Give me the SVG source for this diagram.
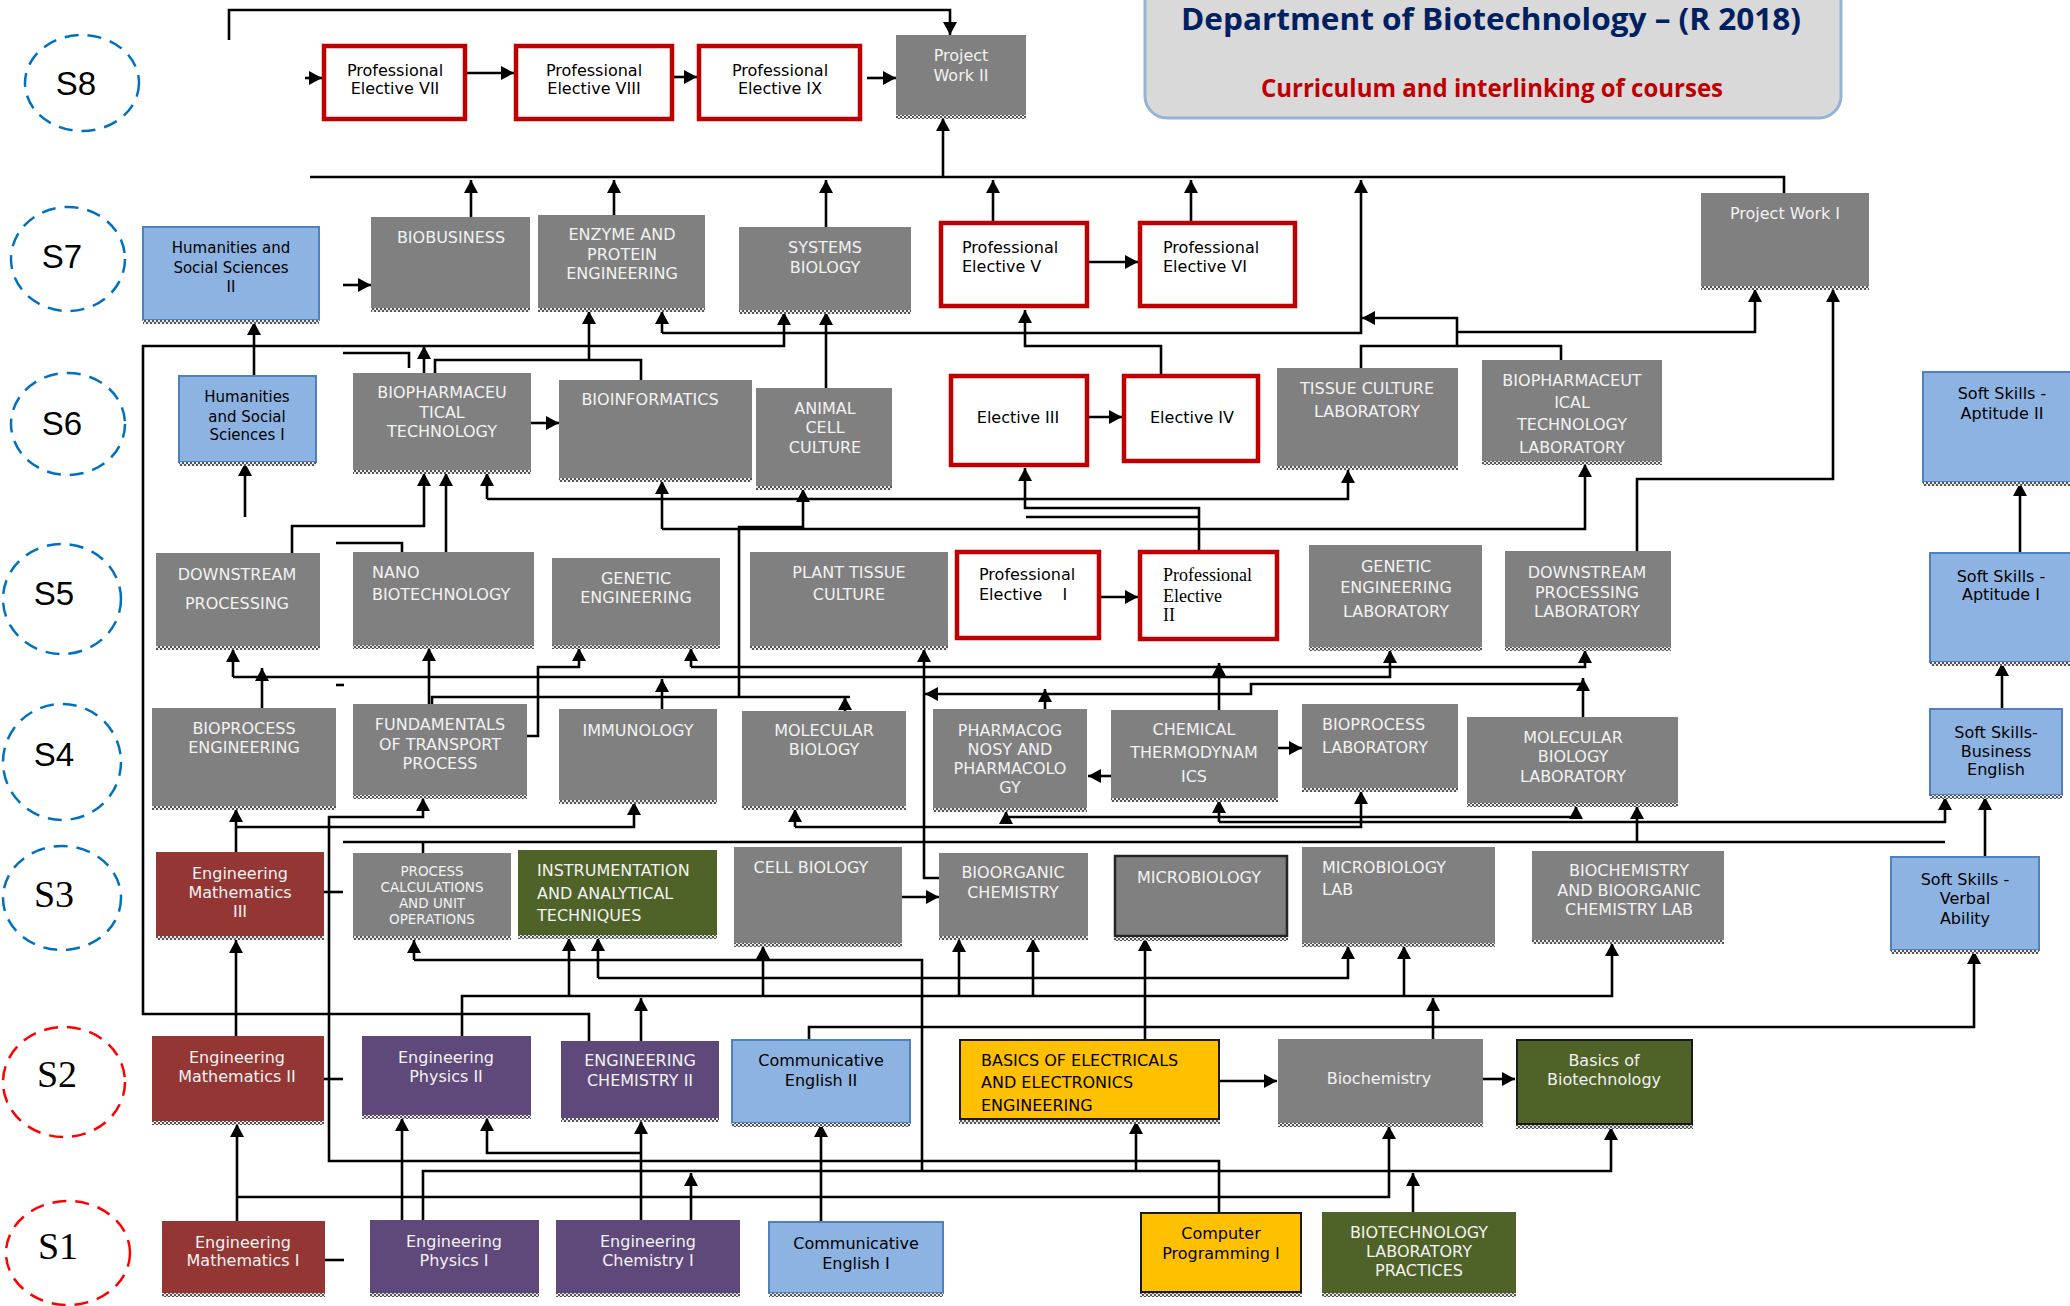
<svg xmlns="http://www.w3.org/2000/svg" width="2070" height="1306" viewBox="0 0 2070 1306">
<defs>
<style>
.g{fill:#808080}
.rd{fill:#fff;stroke:#C00000;stroke-width:4.5}
.bl{fill:#8DB3E2;stroke:#4F81BD;stroke-width:2}
.mr{fill:#943634}
.pu{fill:#5F497A}
.ol{fill:#4F6228}
.ye{fill:#FFC000;stroke:#1a1a1a;stroke-width:2}
.olb{fill:#4F6228;stroke:#1a1a1a;stroke-width:2}
.gb{fill:#808080;stroke:#262626;stroke-width:2.5}
.sh{fill:url(#chk)}
text{font-family:"DejaVu Sans",Verdana,sans-serif;font-size:16px;dominant-baseline:central}
.w{fill:#F2F2F2;text-anchor:middle}
.wl{fill:#F2F2F2}
.k{fill:#000;text-anchor:middle}
.kl{fill:#000}
.sm{font-size:13.5px}
.ser{font-family:"Liberation Serif","Times New Roman",serif;font-size:18px;fill:#000}
.cb{fill:none;stroke:#0070C0;stroke-width:2.5;stroke-dasharray:14 9}
.cr{fill:none;stroke:#FF0000;stroke-width:2.5;stroke-dasharray:14 9}
.sl{font-family:"Liberation Sans",Arial,sans-serif;font-size:33px;fill:#000;text-anchor:middle;dominant-baseline:auto}
.ss{font-family:"Liberation Serif","Times New Roman",serif;font-size:38px;fill:#000;text-anchor:middle;dominant-baseline:auto}
#conn path{fill:none;stroke:#000;stroke-width:2.6}
#conn .a{marker-end:url(#ah)}
</style>
<pattern id="chk" width="4" height="4" patternUnits="userSpaceOnUse">
<rect width="4" height="4" fill="#e8e8e8"/><rect width="2" height="2" fill="#555"/><rect x="2" y="2" width="2" height="2" fill="#555"/>
</pattern>
<marker id="ah" viewBox="0 0 13 14" refX="13" refY="7" markerWidth="13" markerHeight="14" markerUnits="userSpaceOnUse" orient="auto">
<path d="M0,0 L13,7 L0,14 z" fill="#000"/>
</marker>
</defs>
<rect width="2070" height="1306" fill="#fff"/>

<g id="title">
<rect x="1145" y="-30" width="696" height="148" rx="22" fill="#D9D9D9" stroke="#95B3D7" stroke-width="3"/>
<text x="1491" y="30" style="font-family:'Open Sans',sans-serif;font-weight:700;font-size:31px;fill:#002060;text-anchor:middle;dominant-baseline:auto" textLength="620" lengthAdjust="spacingAndGlyphs">Department of Biotechnology – (R 2018)</text>
<text x="1492" y="97" style="font-family:'Open Sans',sans-serif;font-weight:700;font-size:25px;fill:#C00000;text-anchor:middle;dominant-baseline:auto" textLength="462" lengthAdjust="spacingAndGlyphs">Curriculum and interlinking of courses</text>
</g>

<g id="semesters">
<g id="s8"><ellipse class="cb" cx="82" cy="83" rx="57" ry="48"/><text class="sl" x="76" y="95">S8</text></g>
<g id="s7"><ellipse class="cb" cx="68" cy="259" rx="57" ry="52"/><text class="sl" x="62" y="268">S7</text></g>
<g id="s6"><ellipse class="cb" cx="68" cy="424" rx="57" ry="51"/><text class="sl" x="62" y="435">S6</text></g>
<g id="s5"><ellipse class="cb" cx="62" cy="599" rx="59" ry="55"/><text class="sl" x="54" y="605">S5</text></g>
<g id="s4"><ellipse class="cb" cx="62" cy="762" rx="59" ry="58"/><text class="sl" x="54" y="766">S4</text></g>
<g id="s3"><ellipse class="cb" cx="62" cy="898" rx="59" ry="52"/><text class="ss" x="54" y="907">S3</text></g>
<g id="s2"><ellipse class="cr" cx="64" cy="1082" rx="61" ry="55"/><text class="ss" x="57" y="1087">S2</text></g>
<g id="s1"><ellipse class="cr" cx="68" cy="1253" rx="62" ry="52"/><text class="ss" x="58" y="1259">S1</text></g>
</g>

<g id="conn">
<path d="M229,40 V10 H950 V35" class="a"/>
<path d="M305,78 H322" class="a"/>
<path d="M467,73 H514" class="a"/>
<path d="M674,77 H697" class="a"/>
<path d="M867,78 H896" class="a"/>
<path d="M310,177 H1784 V193"/>
<path d="M943,177 V118" class="a"/>
<path d="M471,217 V180" class="a"/>
<path d="M614,215 V180" class="a"/>
<path d="M826,227 V180" class="a"/>
<path d="M993,221 V180" class="a"/>
<path d="M1191,221 V180" class="a"/>
<path d="M662,333 H1361 V180" class="a"/>
<path d="M662,333 V311" class="a"/>
<path d="M343,285 H371" class="a"/>
<path d="M254,376 V322" class="a"/>
<path d="M589,1041 V1014 H143 V346 H784 V312" class="a"/>
<path d="M343,353 H409 V368"/>
<path d="M424,373 V346" class="a"/>
<path d="M435,373 V360 H641 V380"/>
<path d="M589,360 V311" class="a"/>
<path d="M826,388 V312" class="a"/>
<path d="M1161,374 V346 H1025 V310" class="a"/>
<path d="M1361,368 V346 H1561 V360"/>
<path d="M1457,346 V318 H1362" class="a"/>
<path d="M1457,332 H1755 V289" class="a"/>
<path d="M1637,551 V479 H1833 V289" class="a"/>
<path d="M1089,417 H1122" class="a"/>
<path d="M1089,262 H1138" class="a"/>
<path d="M531,423 H559" class="a"/>
<path d="M245,517 V463" class="a"/>
<path d="M292,553 V526 H424 V473" class="a"/>
<path d="M336,543 H402 V552"/>
<path d="M446,552 V473" class="a"/>
<path d="M487,499 V473" class="a"/>
<path d="M487,499 H1348 V470" class="a"/>
<path d="M662,529 V481" class="a"/>
<path d="M662,529 H1585 V464" class="a"/>
<path d="M432,704 V697 H850"/>
<path d="M845,711 V697" class="a"/>
<path d="M739,697 V527 H803 V489" class="a"/>
<path d="M1199,550 V508 H1025 V468" class="a"/>
<path d="M1199,517 H1026"/>
<path d="M1101,597 H1138" class="a"/>
<path d="M233,677 V649" class="a"/>
<path d="M233,677 H1390 V650" class="a"/>
<path d="M262,708 V668" class="a"/>
<path d="M527,736 H538 V667 H579 V648" class="a"/>
<path d="M691,667 V648" class="a"/>
<path d="M691,667 H1585 V650" class="a"/>
<path d="M1219,710 V663" class="a"/>
<path d="M429,705 V648" class="a"/>
<path d="M662,709 V679" class="a"/>
<path d="M1045,709 V689" class="a"/>
<path d="M1583,717 V678" class="a"/>
<path d="M1583,684 H1251 V694 H925" class="a"/>
<path d="M950,878 H924 V649" class="a"/>
<path d="M1111,776 H1088" class="a"/>
<path d="M1278,748 H1302" class="a"/>
<path d="M336,685 H344"/>
<path d="M236,852 V809" class="a"/>
<path d="M236,827 H634 V802" class="a"/>
<path d="M1219,1212 V1161 H329 V817 H423 V798" class="a"/>
<path d="M343,842 H1945"/>
<path d="M423,842 V853"/>
<path d="M1637,842 V806" class="a"/>
<path d="M795,827 V809" class="a"/>
<path d="M795,827 H1361 V791" class="a"/>
<path d="M1006,817 V811" class="a"/>
<path d="M1006,817 H1576 V806" class="a"/>
<path d="M1219,822 V800" class="a"/>
<path d="M1219,822 H1945 V797" class="a"/>
<path d="M236,1036 V940" class="a"/>
<path d="M414,960 V940" class="a"/>
<path d="M414,960 H922 V1171"/>
<path d="M598,978 V938" class="a"/>
<path d="M598,978 H1348 V946" class="a"/>
<path d="M462,1037 V996 H1612 V943" class="a"/>
<path d="M569,996 V938" class="a"/>
<path d="M763,996 V946" class="a"/>
<path d="M959,996 V939" class="a"/>
<path d="M1033,996 V939" class="a"/>
<path d="M1404,996 V946" class="a"/>
<path d="M641,1041 V998" class="a"/>
<path d="M1433,1039 V998" class="a"/>
<path d="M809,1040 V1027 H1974 V951" class="a"/>
<path d="M1145,1039 V938" class="a"/>
<path d="M237,1221 V1124" class="a"/>
<path d="M237,1197 H1389 V1126" class="a"/>
<path d="M402,1220 V1118" class="a"/>
<path d="M423,1220 V1171 H1611 V1127" class="a"/>
<path d="M1136,1171 V1121" class="a"/>
<path d="M641,1220 V1121" class="a"/>
<path d="M641,1153 H487 V1118" class="a"/>
<path d="M691,1220 V1173" class="a"/>
<path d="M821,1222 V1124" class="a"/>
<path d="M1413,1212 V1173" class="a"/>
<path d="M902,897 H939" class="a"/>
<path d="M1220,1081 H1277" class="a"/>
<path d="M1483,1079 H1515" class="a"/>
<path d="M324,892 H343"/>
<path d="M324,1079 H343"/>
<path d="M325,1260 H344"/>
<path d="M1985,857 V797" class="a"/>
<path d="M2002,709 V663" class="a"/>
<path d="M2020,553 V483" class="a"/>
</g>

<g id="nodes">
<g id="pe7"><rect class="rd" x="324" y="46" width="141" height="73"/><text class="k"><tspan x="395" y="70">Professional</tspan><tspan x="395" y="88">Elective VII</tspan></text></g>
<g id="pe8"><rect class="rd" x="516" y="46" width="156" height="73"/><text class="k"><tspan x="594" y="70">Professional</tspan><tspan x="594" y="88">Elective VIII</tspan></text></g>
<g id="pe9"><rect class="rd" x="699" y="46" width="161" height="73"/><text class="k"><tspan x="780" y="70">Professional</tspan><tspan x="780" y="88">Elective IX</tspan></text></g>
<g id="pw2"><rect class="g" x="896" y="35" width="130" height="83"/><rect class="sh" x="896" y="115" width="130" height="4"/><text class="w"><tspan x="961" y="55">Project</tspan><tspan x="961" y="75">Work II</tspan></text></g>

<g id="hss2"><rect class="bl" x="143" y="227" width="176" height="93"/><rect class="sh" x="143" y="320" width="176" height="4"/><text class="k" style="font-size:15px"><tspan x="231" y="248">Humanities and</tspan><tspan x="231" y="268">Social Sciences</tspan><tspan x="231" y="287">II</tspan></text></g>
<g id="biobusiness"><rect class="g" x="371" y="217" width="159" height="93"/><rect class="sh" x="371" y="308" width="159" height="4"/><text class="w" x="451" y="237">BIOBUSINESS</text></g>
<g id="enzyme"><rect class="g" x="538" y="215" width="167" height="95"/><rect class="sh" x="538" y="308" width="167" height="4"/><text class="w"><tspan x="622" y="234">ENZYME AND</tspan><tspan x="622" y="254">PROTEIN</tspan><tspan x="622" y="273">ENGINEERING</tspan></text></g>
<g id="sysbio"><rect class="g" x="739" y="227" width="172" height="85"/><rect class="sh" x="739" y="310" width="172" height="4"/><text class="w"><tspan x="825" y="247">SYSTEMS</tspan><tspan x="825" y="267">BIOLOGY</tspan></text></g>
<g id="pe5"><rect class="rd" x="941" y="223" width="146" height="83"/><text class="kl"><tspan x="962" y="247">Professional</tspan><tspan x="962" y="266">Elective V</tspan></text></g>
<g id="pe6"><rect class="rd" x="1140" y="223" width="155" height="83"/><text class="kl"><tspan x="1163" y="247">Professional</tspan><tspan x="1163" y="266">Elective VI</tspan></text></g>
<g id="pw1"><rect class="g" x="1701" y="193" width="168" height="95"/><rect class="sh" x="1701" y="286" width="168" height="4"/><text class="w" x="1785" y="213">Project Work I</text></g>

<g id="hss1"><rect class="bl" x="179" y="376" width="137" height="86"/><rect class="sh" x="179" y="462" width="137" height="4"/><text class="k" style="font-size:15px"><tspan x="247" y="397">Humanities</tspan><tspan x="247" y="417">and  Social</tspan><tspan x="247" y="435">Sciences I</tspan></text></g>
<g id="biopharm"><rect class="g" x="353" y="373" width="178" height="99"/><rect class="sh" x="353" y="470" width="178" height="4"/><text class="w"><tspan x="442" y="392">BIOPHARMACEU</tspan><tspan x="442" y="412">TICAL</tspan><tspan x="442" y="431">TECHNOLOGY</tspan></text></g>
<g id="bioinfo"><rect class="g" x="559" y="380" width="193" height="100"/><rect class="sh" x="559" y="478" width="193" height="4"/><text class="w" x="650" y="399">BIOINFORMATICS</text></g>
<g id="animal"><rect class="g" x="756" y="388" width="136" height="100"/><rect class="sh" x="756" y="486" width="136" height="4"/><text class="w"><tspan x="825" y="408">ANIMAL</tspan><tspan x="825" y="427">CELL</tspan><tspan x="825" y="447">CULTURE</tspan></text></g>
<g id="e3"><rect class="rd" x="951" y="376" width="136" height="89"/><text class="k" x="1018" y="417">Elective III</text></g>
<g id="e4"><rect class="rd" x="1124" y="376" width="134" height="85"/><text class="k" x="1192" y="417">Elective IV</text></g>
<g id="tcl"><rect class="g" x="1277" y="368" width="181" height="100"/><rect class="sh" x="1277" y="466" width="181" height="4"/><text class="w"><tspan x="1367" y="388">TISSUE CULTURE</tspan><tspan x="1367" y="411">LABORATORY</tspan></text></g>
<g id="bptl"><rect class="g" x="1482" y="360" width="180" height="103"/><rect class="sh" x="1482" y="461" width="180" height="4"/><text class="w"><tspan x="1572" y="380">BIOPHARMACEUT</tspan><tspan x="1572" y="402">ICAL</tspan><tspan x="1572" y="424">TECHNOLOGY</tspan><tspan x="1572" y="447">LABORATORY</tspan></text></g>
<g id="ssa2"><rect class="bl" x="1923" y="372" width="152" height="110"/><rect class="sh" x="1923" y="482" width="150" height="4"/><text class="k"><tspan x="2002" y="393">Soft Skills -</tspan><tspan x="2002" y="413">Aptitude II</tspan></text></g>

<g id="dsp"><rect class="g" x="156" y="553" width="164" height="95"/><rect class="sh" x="156" y="646" width="164" height="4"/><text class="w"><tspan x="237" y="574">DOWNSTREAM</tspan><tspan x="237" y="603">PROCESSING</tspan></text></g>
<g id="nano"><rect class="g" x="353" y="552" width="181" height="95"/><rect class="sh" x="353" y="645" width="181" height="4"/><text class="wl"><tspan x="372" y="572">NANO</tspan><tspan x="372" y="594">BIOTECHNOLOGY</tspan></text></g>
<g id="ge"><rect class="g" x="552" y="558" width="168" height="89"/><rect class="sh" x="552" y="645" width="168" height="4"/><text class="w"><tspan x="636" y="578">GENETIC</tspan><tspan x="636" y="597">ENGINEERING</tspan></text></g>
<g id="ptc"><rect class="g" x="750" y="552" width="198" height="96"/><rect class="sh" x="750" y="646" width="198" height="4"/><text class="w"><tspan x="849" y="572">PLANT TISSUE</tspan><tspan x="849" y="594">CULTURE</tspan></text></g>
<g id="pe1"><rect class="rd" x="957" y="552" width="142" height="86"/><text class="kl"><tspan x="979" y="574">Professional</tspan><tspan x="979" y="594" xml:space="preserve">Elective    I</tspan></text></g>
<g id="pe2"><rect class="rd" x="1140" y="552" width="137" height="87"/><text class="ser"><tspan x="1163" y="575">Professional</tspan><tspan x="1163" y="596">Elective</tspan><tspan x="1163" y="615">II</tspan></text></g>
<g id="gel"><rect class="g" x="1309" y="545" width="173" height="104"/><rect class="sh" x="1309" y="647" width="173" height="4"/><text class="w"><tspan x="1396" y="566">GENETIC</tspan><tspan x="1396" y="587">ENGINEERING</tspan><tspan x="1396" y="611">LABORATORY</tspan></text></g>
<g id="dpl"><rect class="g" x="1505" y="551" width="166" height="98"/><rect class="sh" x="1505" y="647" width="166" height="4"/><text class="w"><tspan x="1587" y="572">DOWNSTREAM</tspan><tspan x="1587" y="592">PROCESSING</tspan><tspan x="1587" y="611">LABORATORY</tspan></text></g>
<g id="ssa1"><rect class="bl" x="1930" y="553" width="145" height="109"/><rect class="sh" x="1930" y="662" width="143" height="4"/><text class="k"><tspan x="2001" y="576">Soft Skills -</tspan><tspan x="2001" y="594">Aptitude I</tspan></text></g>

<g id="bpe"><rect class="g" x="152" y="708" width="184" height="100"/><rect class="sh" x="152" y="806" width="184" height="4"/><text class="w"><tspan x="244" y="728">BIOPROCESS</tspan><tspan x="244" y="747">ENGINEERING</tspan></text></g>
<g id="ftp"><rect class="g" x="353" y="704" width="174" height="93"/><rect class="sh" x="353" y="795" width="174" height="4"/><text class="w"><tspan x="440" y="724">FUNDAMENTALS</tspan><tspan x="440" y="744">OF TRANSPORT</tspan><tspan x="440" y="763">PROCESS</tspan></text></g>
<g id="immuno"><rect class="g" x="559" y="709" width="158" height="93"/><rect class="sh" x="559" y="800" width="158" height="4"/><text class="w" x="638" y="730">IMMUNOLOGY</text></g>
<g id="mb"><rect class="g" x="742" y="711" width="164" height="97"/><rect class="sh" x="742" y="806" width="164" height="4"/><text class="w"><tspan x="824" y="730">MOLECULAR</tspan><tspan x="824" y="749">BIOLOGY</tspan></text></g>
<g id="pharm"><rect class="g" x="933" y="709" width="154" height="101"/><rect class="sh" x="933" y="808" width="154" height="4"/><text class="w"><tspan x="1010" y="730">PHARMACOG</tspan><tspan x="1010" y="749">NOSY AND</tspan><tspan x="1010" y="768">PHARMACOLO</tspan><tspan x="1010" y="787">GY</tspan></text></g>
<g id="chem"><rect class="g" x="1111" y="710" width="167" height="90"/><rect class="sh" x="1111" y="798" width="167" height="4"/><text class="w"><tspan x="1194" y="729">CHEMICAL</tspan><tspan x="1194" y="752">THERMODYNAM</tspan><tspan x="1194" y="776">ICS</tspan></text></g>
<g id="bpl"><rect class="g" x="1302" y="704" width="156" height="86"/><rect class="sh" x="1302" y="788" width="156" height="4"/><text class="wl"><tspan x="1322" y="724">BIOPROCESS</tspan><tspan x="1322" y="747">LABORATORY</tspan></text></g>
<g id="mbl"><rect class="g" x="1467" y="717" width="211" height="88"/><rect class="sh" x="1467" y="803" width="211" height="4"/><text class="w"><tspan x="1573" y="737">MOLECULAR</tspan><tspan x="1573" y="756">BIOLOGY</tspan><tspan x="1573" y="776">LABORATORY</tspan></text></g>
<g id="ssbe"><rect class="bl" x="1930" y="709" width="132" height="86"/><rect class="sh" x="1930" y="795" width="132" height="4"/><text class="k"><tspan x="1996" y="732">Soft Skills-</tspan><tspan x="1996" y="751">Business</tspan><tspan x="1996" y="769">English</tspan></text></g>

<g id="em3"><rect class="mr" x="156" y="852" width="168" height="86"/><rect class="sh" x="156" y="936" width="168" height="4"/><text class="w"><tspan x="240" y="873">Engineering</tspan><tspan x="240" y="892">Mathematics</tspan><tspan x="240" y="911">III</tspan></text></g>
<g id="pcuo"><rect class="g" x="353" y="853" width="158" height="85"/><rect class="sh" x="353" y="936" width="158" height="4"/><text class="w sm"><tspan x="432" y="871">PROCESS</tspan><tspan x="432" y="887">CALCULATIONS</tspan><tspan x="432" y="903">AND UNIT</tspan><tspan x="432" y="919">OPERATIONS</tspan></text></g>
<g id="instr"><rect class="ol" x="518" y="850" width="199" height="87"/><rect class="sh" x="518" y="935" width="199" height="4"/><text class="wl"><tspan x="537" y="870">INSTRUMENTATION</tspan><tspan x="537" y="893">AND ANALYTICAL</tspan><tspan x="537" y="915">TECHNIQUES</tspan></text></g>
<g id="cellbio"><rect class="g" x="734" y="847" width="168" height="98"/><rect class="sh" x="734" y="943" width="168" height="4"/><text class="w" x="811" y="867">CELL BIOLOGY</text></g>
<g id="bioorg"><rect class="g" x="939" y="853" width="149" height="85"/><rect class="sh" x="939" y="936" width="149" height="4"/><text class="w"><tspan x="1013" y="872">BIOORGANIC</tspan><tspan x="1013" y="892">CHEMISTRY</tspan></text></g>
<g id="micro"><rect class="gb" x="1115" y="856" width="172" height="80"/><rect class="sh" x="1114" y="937" width="174" height="4"/><text class="w" x="1199" y="877">MICROBIOLOGY</text></g>
<g id="microlab"><rect class="g" x="1302" y="847" width="193" height="98"/><rect class="sh" x="1302" y="943" width="193" height="4"/><text class="wl"><tspan x="1322" y="867">MICROBIOLOGY</tspan><tspan x="1322" y="889">LAB</tspan></text></g>
<g id="bbcl"><rect class="g" x="1532" y="851" width="192" height="91"/><rect class="sh" x="1532" y="940" width="192" height="4"/><text class="w"><tspan x="1629" y="870">BIOCHEMISTRY</tspan><tspan x="1629" y="890">AND BIOORGANIC</tspan><tspan x="1629" y="909">CHEMISTRY LAB</tspan></text></g>
<g id="ssva"><rect class="bl" x="1891" y="857" width="148" height="93"/><rect class="sh" x="1891" y="950" width="148" height="4"/><text class="k"><tspan x="1965" y="879">Soft Skills -</tspan><tspan x="1965" y="898">Verbal</tspan><tspan x="1965" y="918">Ability</tspan></text></g>

<g id="em2"><rect class="mr" x="152" y="1036" width="172" height="87"/><rect class="sh" x="152" y="1121" width="172" height="4"/><text class="w"><tspan x="237" y="1057">Engineering</tspan><tspan x="237" y="1076">Mathematics II</tspan></text></g>
<g id="ep2"><rect class="pu" x="362" y="1036" width="169" height="81"/><rect class="sh" x="362" y="1115" width="169" height="4"/><text class="w"><tspan x="446" y="1057">Engineering</tspan><tspan x="446" y="1076">Physics II</tspan></text></g>
<g id="ec2"><rect class="pu" x="561" y="1041" width="158" height="79"/><rect class="sh" x="561" y="1118" width="158" height="4"/><text class="w"><tspan x="640" y="1060">ENGINEERING</tspan><tspan x="640" y="1080">CHEMISTRY II</tspan></text></g>
<g id="ce2"><rect class="bl" x="732" y="1040" width="178" height="83"/><rect class="sh" x="732" y="1123" width="178" height="4"/><text class="k"><tspan x="821" y="1060">Communicative</tspan><tspan x="821" y="1080">English II</tspan></text></g>
<g id="beee"><rect class="ye" x="960" y="1040" width="259" height="79"/><rect class="sh" x="959" y="1120" width="261" height="4"/><text class="kl"><tspan x="981" y="1060">BASICS OF ELECTRICALS</tspan><tspan x="981" y="1082">AND ELECTRONICS</tspan><tspan x="981" y="1105">ENGINEERING</tspan></text></g>
<g id="biochem"><rect class="g" x="1278" y="1039" width="205" height="86"/><rect class="sh" x="1278" y="1123" width="205" height="4"/><text class="w" x="1379" y="1078">Biochemistry</text></g>
<g id="bob"><rect class="olb" x="1517" y="1040" width="175" height="84"/><rect class="sh" x="1516" y="1125" width="177" height="4"/><text class="w"><tspan x="1604" y="1060">Basics of</tspan><tspan x="1604" y="1079">Biotechnology</tspan></text></g>

<g id="em1"><rect class="mr" x="162" y="1221" width="163" height="74"/><rect class="sh" x="162" y="1293" width="163" height="4"/><text class="w"><tspan x="243" y="1242">Engineering</tspan><tspan x="243" y="1260">Mathematics I</tspan></text></g>
<g id="ep1"><rect class="pu" x="370" y="1220" width="169" height="75"/><rect class="sh" x="370" y="1293" width="169" height="4"/><text class="w"><tspan x="454" y="1241">Engineering</tspan><tspan x="454" y="1260">Physics I</tspan></text></g>
<g id="ec1"><rect class="pu" x="556" y="1220" width="184" height="75"/><rect class="sh" x="556" y="1293" width="184" height="4"/><text class="w"><tspan x="648" y="1241">Engineering</tspan><tspan x="648" y="1260">Chemistry I</tspan></text></g>
<g id="ce1"><rect class="bl" x="769" y="1222" width="174" height="71"/><rect class="sh" x="769" y="1293" width="174" height="4"/><text class="k"><tspan x="856" y="1243">Communicative</tspan><tspan x="856" y="1263">English I</tspan></text></g>
<g id="cp1"><rect class="ye" x="1141" y="1213" width="160" height="79"/><rect class="sh" x="1140" y="1293" width="162" height="4"/><text class="k"><tspan x="1221" y="1233">Computer</tspan><tspan x="1221" y="1253">Programming I</tspan></text></g>
<g id="blp"><rect class="ol" x="1322" y="1212" width="194" height="83"/><rect class="sh" x="1322" y="1293" width="194" height="4"/><text class="w"><tspan x="1419" y="1232">BIOTECHNOLOGY</tspan><tspan x="1419" y="1251">LABORATORY</tspan><tspan x="1419" y="1270">PRACTICES</tspan></text></g>
</g>
</svg>
